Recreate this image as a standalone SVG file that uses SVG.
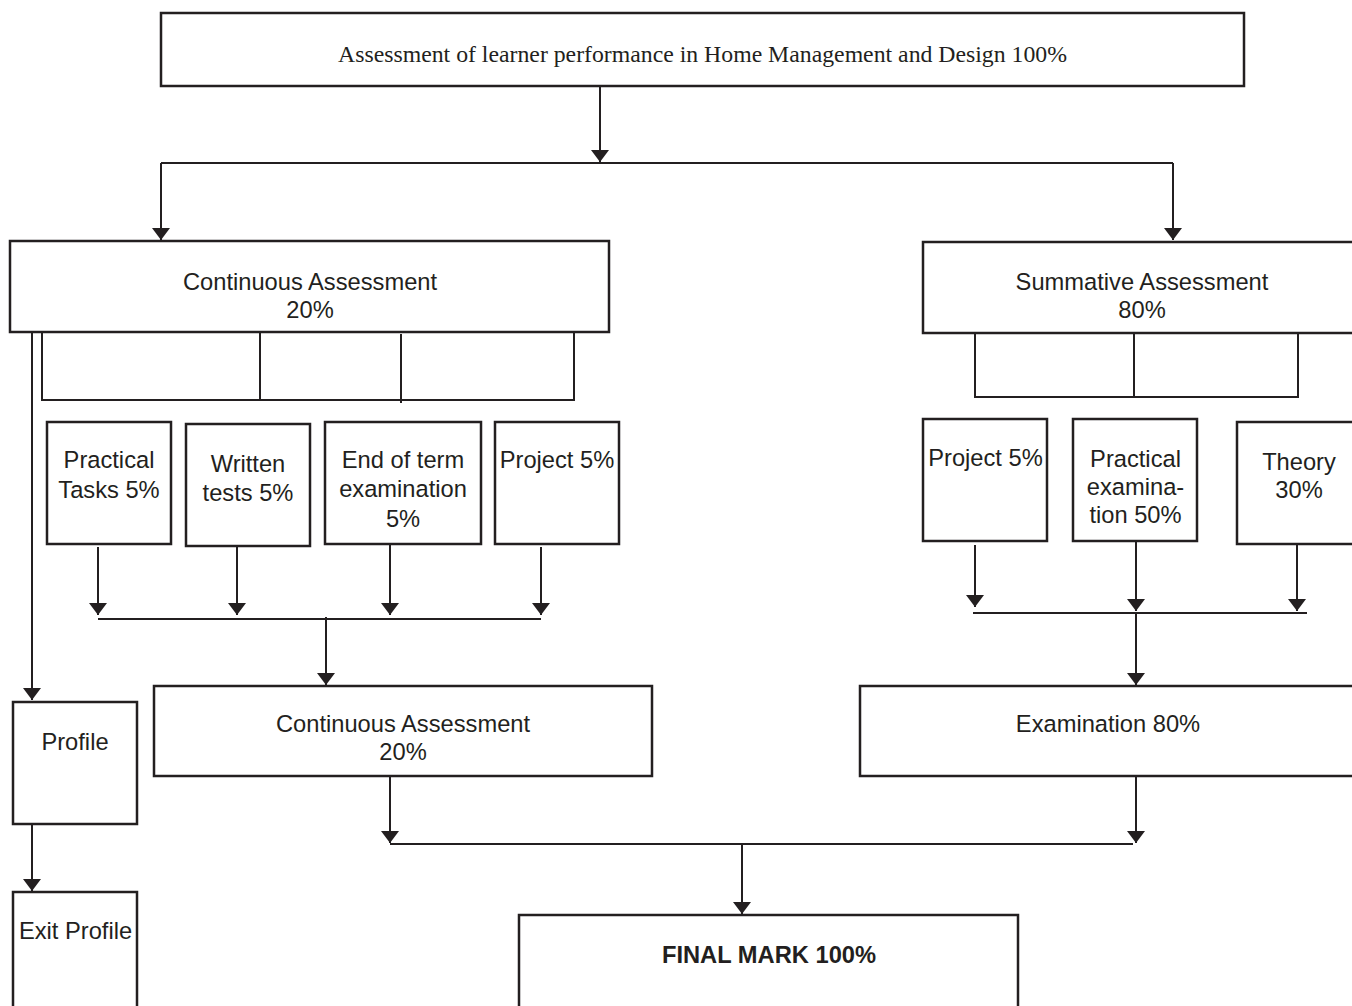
<svg xmlns="http://www.w3.org/2000/svg" width="1352" height="1006" viewBox="0 0 1352 1006">
<defs>
<style>
.box{fill:#fff;stroke:#231f20;stroke-width:2.5}
.ln{fill:none;stroke:#231f20;stroke-width:2}
.t{font-family:"Liberation Sans",Arial,sans-serif;font-size:23.7px;fill:#231f20;text-anchor:middle}
.b{font-weight:bold}
.s{font-family:"Liberation Serif","Times New Roman",serif;font-size:23px;fill:#231f20;text-anchor:middle}
</style>
<marker id="ah" markerUnits="userSpaceOnUse" markerWidth="12" markerHeight="18" viewBox="0 0 12 18" refX="12" refY="9" orient="auto">
<path d="M0,0 L12,9 L0,18 z" fill="#231f20"/>
</marker>
</defs>
<rect width="1352" height="1006" fill="#fff"/>

<g id="connectors">
<path class="ln" d="M600,86 V162" marker-end="url(#ah)"/>
<path class="ln" d="M161,163 H1173"/>
<path class="ln" d="M161,163 V240" marker-end="url(#ah)"/>
<path class="ln" d="M1173,163 V240" marker-end="url(#ah)"/>
<path class="ln" d="M32,332 V700" marker-end="url(#ah)"/>
<path class="ln" d="M42,332 V400 H574 V332 M260,332 V400 M401,334 V403"/>
<path class="ln" d="M98,547 V615" marker-end="url(#ah)"/>
<path class="ln" d="M237,547 V615" marker-end="url(#ah)"/>
<path class="ln" d="M390,545 V615" marker-end="url(#ah)"/>
<path class="ln" d="M541,547 V615" marker-end="url(#ah)"/>
<path class="ln" d="M98,619 H541"/>
<path class="ln" d="M326,617 V685" marker-end="url(#ah)"/>
<path class="ln" d="M975,333 V397 H1298 V331 M1134,333 V397"/>
<path class="ln" d="M975,545 V607" marker-end="url(#ah)"/>
<path class="ln" d="M1136,542 V611" marker-end="url(#ah)"/>
<path class="ln" d="M1297,545 V611" marker-end="url(#ah)"/>
<path class="ln" d="M973,613 H1307"/>
<path class="ln" d="M1136,613 V685" marker-end="url(#ah)"/>
<path class="ln" d="M1136,777 V843" marker-end="url(#ah)"/>
<path class="ln" d="M390,777 V843" marker-end="url(#ah)"/>
<path class="ln" d="M390,844 H1133"/>
<path class="ln" d="M742,844 V914" marker-end="url(#ah)"/>
<path class="ln" d="M32,824 V891" marker-end="url(#ah)"/>
</g>

<g id="n-top">
<rect class="box" x="161" y="13" width="1083" height="73"/>
<text class="s" x="702.5" y="62" textLength="729" lengthAdjust="spacingAndGlyphs">Assessment of learner performance in Home Management and Design 100%</text>
</g>

<g id="n-ca">
<rect class="box" x="10" y="241" width="599" height="91"/>
<text class="t" x="310" y="290">Continuous Assessment</text>
<text class="t" x="310" y="318">20%</text>
</g>

<g id="n-sa">
<rect class="box" x="923" y="242" width="440" height="91"/>
<text class="t" x="1142" y="290">Summative Assessment</text>
<text class="t" x="1142" y="318">80%</text>
</g>

<g id="n-pt">
<rect class="box" x="47" y="422" width="124" height="122"/>
<text class="t" x="109" y="468">Practical</text>
<text class="t" x="109" y="498">Tasks 5%</text>
</g>

<g id="n-wt">
<rect class="box" x="186" y="424" width="124" height="122"/>
<text class="t" x="248" y="472">Written</text>
<text class="t" x="248" y="501">tests 5%</text>
</g>

<g id="n-et">
<rect class="box" x="325" y="422" width="156" height="122"/>
<text class="t" x="403" y="468">End of term</text>
<text class="t" x="403" y="497">examination</text>
<text class="t" x="403" y="527">5%</text>
</g>

<g id="n-pj">
<rect class="box" x="495" y="422" width="124" height="122"/>
<text class="t" x="557" y="468">Project 5%</text>
</g>

<g id="n-spj">
<rect class="box" x="923" y="419" width="124" height="122"/>
<text class="t" x="985.5" y="466">Project 5%</text>
</g>

<g id="n-pe">
<rect class="box" x="1073" y="419" width="124" height="122"/>
<text class="t" x="1135.5" y="467">Practical</text>
<text class="t" x="1135.5" y="495">examina-</text>
<text class="t" x="1135.5" y="523">tion 50%</text>
</g>

<g id="n-th">
<rect class="box" x="1237" y="422" width="130" height="122"/>
<text class="t" x="1299" y="470">Theory</text>
<text class="t" x="1299" y="498">30%</text>
</g>

<g id="n-profile">
<rect class="box" x="13" y="702" width="124" height="122"/>
<text class="t" x="75" y="750">Profile</text>
</g>

<g id="n-exit">
<rect class="box" x="13" y="892" width="124" height="130"/>
<text class="t" x="75.5" y="939">Exit Profile</text>
</g>

<g id="n-ca2">
<rect class="box" x="154" y="686" width="498" height="90"/>
<text class="t" x="403" y="732">Continuous Assessment</text>
<text class="t" x="403" y="760">20%</text>
</g>

<g id="n-exam">
<rect class="box" x="860" y="686" width="510" height="90"/>
<text class="t" x="1108" y="732">Examination 80%</text>
</g>

<g id="n-final">
<rect class="box" x="519" y="915" width="499" height="105"/>
<text class="t b" x="769" y="963">FINAL MARK 100%</text>
</g>
</svg>
